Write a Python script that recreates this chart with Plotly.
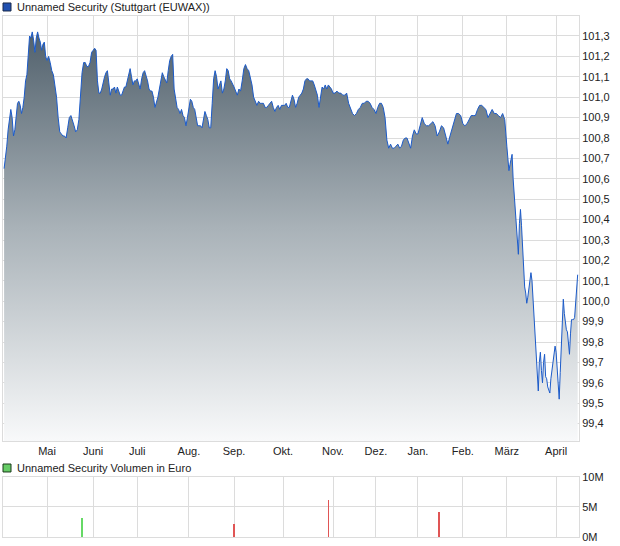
import numpy as np
import plotly.graph_objects as go

apr = [100.65, 100.70, 100.76, 100.84, 100.90, 100.94, 100.90, 100.81, 100.84, 100.93,
       100.97, 100.98, 100.96, 100.92, 100.95, 101.00, 101.08, 101.11, 101.20, 101.30,
       101.29, 101.32, 101.28, 101.22, 101.29, 101.32, 101.29, 101.27, 101.23, 101.26,
       101.27, 101.20]
mai = [101.18, 101.20, 101.17, 101.13, 101.11, 101.06, 101.00, 100.90, 100.83, 100.82,
       100.81, 100.81, 100.80, 100.85, 100.90, 100.91, 100.89, 100.86, 100.83, 100.84,
       100.89, 101.00, 101.12, 101.17, 101.17, 101.15, 101.15, 101.17, 101.22]
jun = [101.23, 101.24, 101.23, 101.08, 101.02, 101.02, 101.04, 101.08, 101.10, 101.12,
       101.13, 101.07, 101.01, 101.04, 101.04, 101.05, 101.02, 101.05, 101.03, 101.01,
       101.01, 101.03, 101.05, 101.05, 101.08, 101.12, 101.14, 101.10, 101.06, 101.08,
       101.08]
jul = [101.09, 101.06, 101.04, 101.09, 101.12, 101.13, 101.11, 101.08, 101.04, 101.03,
       101.03, 101.00, 100.95, 100.97, 101.00, 101.04, 101.09, 101.12, 101.10, 101.08,
       101.07, 101.13, 101.18, 101.20, 101.21, 101.04, 100.99, 100.95, 100.94, 100.92,
       100.94, 100.91, 100.90, 100.86, 100.90]
aug = [100.96, 100.99, 100.98, 100.95, 100.94, 100.89, 100.86, 100.86, 100.86, 100.85,
       100.90, 100.93, 100.91, 100.89, 100.85, 100.85, 100.97, 101.09, 101.13, 101.10,
       101.04, 101.06, 101.08, 101.02, 101.04, 101.08, 101.14, 101.13, 101.09, 101.08,
       101.06]
sep = [101.05, 101.03, 101.01, 101.04, 101.03, 101.08, 101.14, 101.16, 101.14, 101.13,
       101.10, 101.06, 101.00, 100.98, 100.96, 100.98, 100.97, 100.97, 100.97, 100.95,
       100.95, 100.96, 100.97, 100.98, 100.95, 100.93, 100.95, 100.96, 100.94, 100.96]
okt = [100.96, 100.96, 100.97, 100.95, 100.95, 100.98, 101.01, 100.99, 100.95, 100.97,
       101.00, 101.01, 101.02, 101.04, 101.08, 101.09, 101.09, 101.08, 101.08, 101.08,
       101.06, 101.04, 101.01, 100.95, 101.01, 101.05, 101.04, 101.06, 101.04, 101.06,
       101.05, 101.04]
nov = [101.02, 101.02, 101.03, 101.02, 101.02, 101.01, 101.01, 101.02, 100.97, 100.94,
       100.92, 100.91, 100.92, 100.94, 100.95, 100.97, 100.97, 100.98, 100.98, 100.97,
       100.95, 100.94]
dez = [100.92, 100.95, 100.97, 100.97, 100.95, 100.90, 100.79, 100.75, 100.77, 100.75,
       100.75, 100.76, 100.77, 100.75, 100.76, 100.79, 100.80, 100.80, 100.77, 100.75,
       100.81, 100.84, 100.82]
jan = [100.82, 100.86, 100.90, 100.87, 100.86, 100.86, 100.87, 100.88, 100.86, 100.81,
       100.83, 100.86, 100.85, 100.81, 100.77, 100.81, 100.85, 100.88, 100.92, 100.92,
       100.91]
feb = [100.87, 100.86, 100.87, 100.89, 100.91, 100.91, 100.91, 100.94, 100.96, 100.96,
       100.95, 100.94, 100.90, 100.92, 100.94, 100.92, 100.92, 100.91, 100.90, 100.92,
       100.89]
mrz = [100.76, 100.69, 100.64, 100.67, 100.70, 100.72, 100.60, 100.52, 100.45, 100.37,
       100.30, 100.23, 100.38, 100.45, 100.37, 100.24, 100.14, 100.07, 100.04, 99.99,
       100.02, 100.06, 100.10, 100.14, 100.10, 100.01, 99.92, 99.78, 99.68, 99.60,
       99.56, 99.70, 99.75, 99.66, 99.60, 99.70, 99.74, 99.63, 99.62, 99.58,
       99.56, 99.55, 99.62, 99.66, 99.70, 99.75, 99.78]
apr2 = [99.75, 99.68, 99.58, 99.52, 99.65, 99.78, 99.93, 100.01, 99.94, 99.88,
        99.86, 99.85, 99.78, 99.74, 99.84, 99.91, 99.91, 99.91, 99.92, 99.98,
        100.07, 100.13]

# Monatsgrenzen in Handelstagen ab Chartbeginn
month_edges = [0.5, 20, 41, 61, 84.5, 105, 127.3, 150, 169.5, 188.6, 209, 229, 251.4, 261.2]
month_labels = ['Mai', 'Juni', 'Juli', 'Aug.', 'Sep.', 'Okt.', 'Nov.', 'Dez.',
                'Jan.', 'Feb.', 'März', 'April']

# Umsätze (Euro)
vol_day = [36.0, 105.1, 147.9, 198.3]
vol_eur = [3.2e6, 2.1e6, 6.2e6, 4.2e6]
vol_up = [True, False, False, False]

segments = [apr, mai, jun, jul, aug, sep, okt, nov, dez, jan, feb, mrz, apr2]
x, y = [], []
for i, seg in enumerate(segments):
    last = (i == len(segments) - 1)
    x.extend(np.linspace(month_edges[i], month_edges[i + 1], len(seg), endpoint=last))
    y.extend(seg)

grid = '#dcdcdc'
font = 'Liberation Sans, Arial, sans-serif'

fig = go.Figure()

fig.add_trace(go.Scatter(
    x=x, y=y, mode='lines',
    line=dict(color='#1c5bc9', width=1),
    fill='tozeroy',
    fillgradient=dict(type='vertical', start=99.315, stop=101.40,
                      colorscale=[[0, '#f8f9fa'], [0.5, '#a9b2b8'], [1, '#4a5a66']]),
    xaxis='x', yaxis='y', hoverinfo='skip', showlegend=False
))

fig.add_trace(go.Bar(
    x=vol_day, y=vol_eur, width=0.35,
    marker=dict(color=['#66d966' if u else '#e05555' for u in vol_up], line=dict(width=0)),
    xaxis='x2', yaxis='y2', hoverinfo='skip', showlegend=False
))

x_common = dict(range=[0, 261.8], tickvals=month_edges[1:13], ticktext=month_labels,
                showgrid=True, gridcolor=grid, gridwidth=1, zeroline=False,
                showline=True, linecolor=grid, linewidth=1, mirror=True, ticks='')

fig.update_layout(
    width=620, height=546,
    margin=dict(l=3, r=41, t=16, b=9),
    paper_bgcolor='white', plot_bgcolor='white',
    separators=',.',
    font=dict(family=font, size=11, color='#222222'),
    bargap=0,
    xaxis=dict(**x_common, anchor='y', domain=[0, 1],
               tickfont=dict(size=11, color='#222222')),
    yaxis=dict(domain=[0.1843, 1], range=[99.315, 101.398], side='right',
               tick0=99.4, dtick=0.1, tickformat='.1f',
               showgrid=True, gridcolor=grid, zeroline=False,
               showline=True, linecolor=grid, mirror=True, ticks='',
               tickfont=dict(size=11, color='#222222')),
    xaxis2=dict(**x_common, anchor='y2', domain=[0, 1], showticklabels=False),
    yaxis2=dict(domain=[0, 0.1152], range=[0, 10e6], side='right',
                tickvals=[0, 5e6, 10e6], ticktext=['0M', '5M', '10M'],
                showgrid=True, gridcolor=grid, zeroline=False,
                showline=True, linecolor=grid, mirror=True, ticks='',
                tickfont=dict(size=11, color='#222222')),
)

# Legendenkästchen und Beschriftungen
fig.add_shape(type='rect', xref='paper', yref='paper',
              x0=0.0, x1=0.0139, y0=1.0096, y1=1.025,
              fillcolor='#2050b0', line=dict(color='#1a2a4a', width=1))
fig.add_annotation(text='Unnamed Security (Stuttgart (EUWAX))', xref='paper', yref='paper',
                   x=0.0208, y=1.0173, xanchor='left', yanchor='middle', showarrow=False,
                   font=dict(size=11, color='#222222'))
fig.add_shape(type='rect', xref='paper', yref='paper',
              x0=0.0, x1=0.0139, y0=0.1248, y1=0.1401,
              fillcolor='#66cc66', line=dict(color='#1a3a1a', width=1))
fig.add_annotation(text='Unnamed Security Volumen in Euro', xref='paper', yref='paper',
                   x=0.0208, y=0.1324, xanchor='left', yanchor='middle', showarrow=False,
                   font=dict(size=11, color='#222222'))

# Seitenrand des Browsers entfernen, damit die Grafik genau ins Fenster passt
fig.write_html('out.html', config={'displayModeBar': False},
               post_script="document.body.style.margin='0px';")
